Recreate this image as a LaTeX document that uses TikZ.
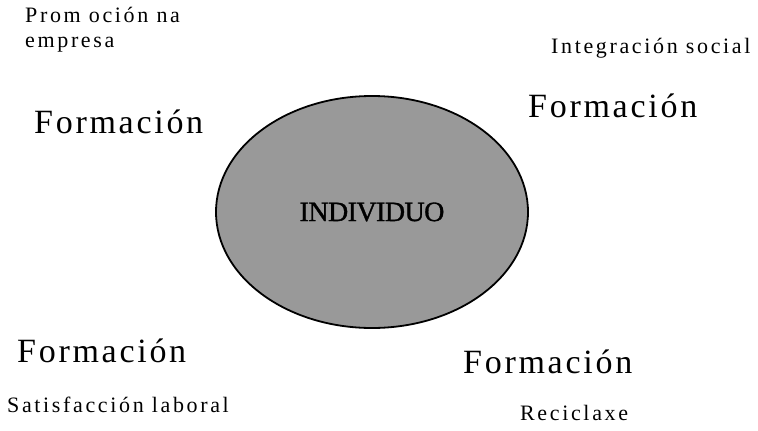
\documentclass[tikz,border=0pt]{standalone}
\usepackage{fontspec}
\setmainfont{Liberation Serif}
\newfontfamily\widefont[LetterSpace=12]{Liberation Serif}
\newfontfamily\widebigfont[LetterSpace=8]{Liberation Serif}
\newfontfamily\heavyfont[FakeBold=1.2,LetterSpace=-2]{Liberation Serif}
\usetikzlibrary{shapes.geometric}

\tikzset{
  smalltxt/.style={anchor=base west, inner sep=0pt, font=\widefont\fontsize{22}{26}\selectfont},
  bigtxt/.style={anchor=base west, inner sep=0pt, font=\widebigfont\fontsize{34}{40}\selectfont}
}

\begin{document}
\begin{tikzpicture}[x=1pt,y=-1pt]
\useasboundingbox (0,0) rectangle (758,431);
\node[fill=black!40] (indiv) at (372,212) [ellipse, draw, line width=1.8pt, minimum width=312, minimum height=232, font=\heavyfont\fontsize{28}{30}\selectfont] {INDIVIDUO};
\node[smalltxt] (promo) at (25,22) {Prom oción na};
\node[smalltxt] (promob) at (25,47) {empresa};
\node[smalltxt] (integ) at (551,53) {Integración social};
	\node[bigtxt] (form1) at (34,133) {Formación};
	\node[bigtxt] (form2) at (528,117) {Formación};
	\node[bigtxt] (form3) at (17,362) {Formación};
	\node[bigtxt] (form4) at (463,373) {Formación};
\node[smalltxt] (satisf) at (7,412) {Satisfacción laboral};
\node[smalltxt] (recic) at (520,420) {Reciclaxe};
\end{tikzpicture}
\end{document}
